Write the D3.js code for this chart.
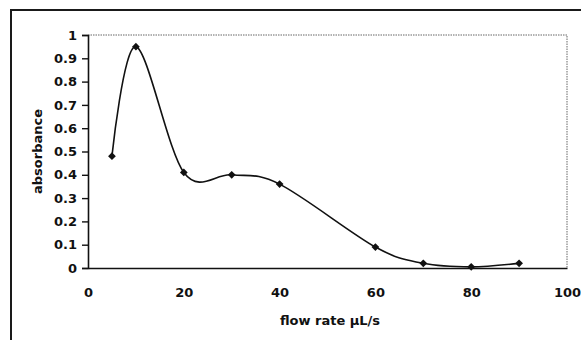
<!DOCTYPE html>
<html>
<head>
<meta charset="utf-8">
<script src="https://cdn.jsdelivr.net/npm/d3@7"></script>
<style>
  html, body { margin: 0; padding: 0; background: #fff; }
  svg { display: block; }
</style>
</head>
<body>
<div id="chart"></div>
<script>
// flow rate (µL/s) vs absorbance
const flowRate = [5, 10, 20, 30, 40, 60, 70, 80, 90];
const absorbance = [0.48, 0.95, 0.41, 0.40, 0.36, 0.09, 0.02, 0.005, 0.02];
const yTicks = [0, 0.1, 0.2, 0.3, 0.4, 0.5, 0.6, 0.7, 0.8, 0.9, 1];
const xTicks = [0, 20, 40, 60, 80, 100];

const W = 581, H = 340;
const margin = { top: 35, right: 14, bottom: 72, left: 88 };
const font = '"DejaVu Sans", Verdana, sans-serif';

const svg = d3.select('#chart').append('svg')
  .attr('width', W)
  .attr('height', H);

// outer frame (left and top edges visible)
svg.append('path')
  .attr('d', `M11,${H} L11,10 L${W},10`)
  .attr('fill', 'none')
  .attr('stroke', '#1a1a1a')
  .attr('stroke-width', 2);

const x = d3.scaleLinear().domain([0, 100]).range([margin.left, W - margin.right]);
const y = d3.scaleLinear().domain([0, 1]).range([H - margin.bottom, margin.top]);

// plot area border (dotted top and right)
svg.append('path')
  .attr('d', `M${x(0)},${y(1)} L${x(100)},${y(1)} L${x(100)},${y(0)}`)
  .attr('fill', 'none')
  .attr('stroke', '#666')
  .attr('stroke-width', 1)
  .attr('stroke-dasharray', '1.5,1');

const yAxis = svg.append('g')
  .attr('transform', `translate(${x(0)},0)`)
  .call(d3.axisLeft(y).tickValues(yTicks).tickSize(6).tickPadding(5)
    .tickFormat(d => d === 0 || d === 1 ? d3.format('d')(d) : d3.format('.1f')(d)));

const xAxis = svg.append('g')
  .attr('transform', `translate(0,${y(0)})`)
  .call(d3.axisBottom(x).tickValues(xTicks).tickSize(0).tickPadding(20));

[xAxis, yAxis].forEach(g => {
  g.select('.domain').attr('stroke', '#111').attr('stroke-width', 1.6);
  g.selectAll('.tick line').attr('stroke', '#111').attr('stroke-width', 1.4);
  g.selectAll('text')
    .style('font-family', font)
    .style('font-size', '13px')
    .style('font-weight', 'bold')
    .style('fill', '#111');
});

const line = d3.line()
  .x((d, i) => x(flowRate[i]))
  .y(d => y(d))
  .curve(d3.curveCardinal.tension(0));

svg.append('path')
  .datum(absorbance)
  .attr('d', line)
  .attr('fill', 'none')
  .attr('stroke', '#111')
  .attr('stroke-width', 1.6);

// diamond markers: squares turned 45 degrees
const marker = d3.symbol().type(d3.symbolSquare).size(30);
svg.append('g')
  .selectAll('path')
  .data(absorbance)
  .enter()
  .append('path')
  .attr('d', marker)
  .attr('transform', (d, i) => `translate(${x(flowRate[i])},${y(d)}) rotate(45)`)
  .attr('fill', '#111');

svg.append('text')
  .attr('transform', `translate(42,${(y(0) + y(1)) / 2}) rotate(-90)`)
  .attr('text-anchor', 'middle')
  .style('font-family', font)
  .style('font-size', '13px')
  .style('font-weight', 'bold')
  .style('fill', '#111')
  .text('absorbance');

svg.append('text')
  .attr('x', 330)
  .attr('y', 325)
  .attr('text-anchor', 'middle')
  .style('font-family', font)
  .style('font-size', '13px')
  .style('font-weight', 'bold')
  .style('fill', '#111')
  .text('flow rate µL/s');
</script>
</body>
</html>
